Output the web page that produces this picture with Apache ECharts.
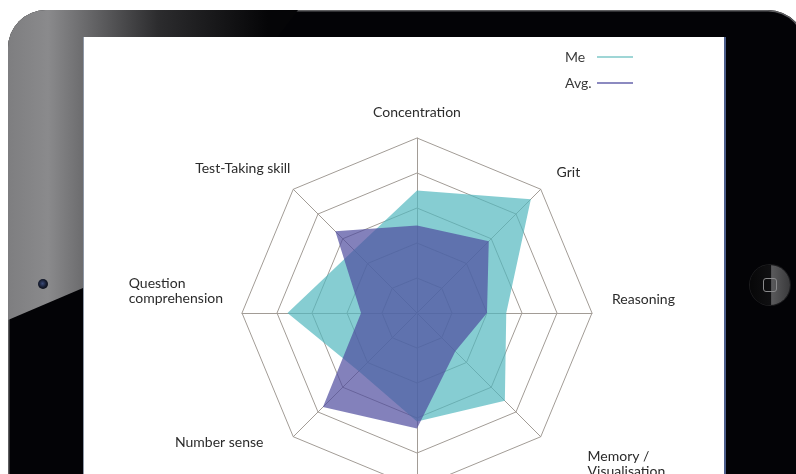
<!DOCTYPE html>
<html>
<head>
<meta charset="utf-8">
<script src="https://cdn.jsdelivr.net/npm/echarts@6/dist/echarts.min.js"></script>
<style>
  html, body { margin:0; padding:0; width:796px; height:474px; overflow:hidden; background:#ffffff; }
  .ipad { position:absolute; left:8px; top:10px; width:798px; height:700px; border-radius:38px;
          background:#030306; overflow:hidden; box-shadow: inset 0 0 0 1.5px #5e5e60; }
  .glare { position:absolute; left:0; top:0; width:300px; height:320px;
           clip-path: polygon(0 0, 290px 0, 75px 278px, 0 310px);
           background: linear-gradient(to right, #7e7e80 0px, #8a8a8c 40px, #6c6c6e 75px, #2c2c2e 150px, #050507 260px); }
  .screen { position:absolute; left:83px; top:37px; width:643px; height:460px; background:#ffffff;
            border-right:2px solid #4b5d8a; border-left:1px solid #8f98a6; box-sizing:border-box; }
  .home { position:absolute; left:750px; top:265px; width:40px; height:40px; border-radius:50%;
          background: linear-gradient(to right, #070708 0%, #101012 52%, #5a5a5c 54%, #3a3a3c 100%);
          box-shadow: 0 0 0 1px #1c1c1e; }
  .home::after { content:''; position:absolute; left:13px; top:13px; width:12px; height:12px;
          border:1.5px solid #8a8a8c; border-radius:3px; }
  .cam { position:absolute; left:38px; top:279px; width:10px; height:10px; border-radius:50%;
         background: radial-gradient(circle at 45% 45%, #3a4a78 0%, #141a2c 50%, #020205 100%); }
  #chart { position:absolute; left:0; top:0; width:796px; height:474px; }
</style>
</head>
<body>
<div class="ipad"><div class="glare"></div></div>
<div class="screen"></div>
<div class="home"></div>
<div class="cam"></div>
<div id="chart"></div>
<script>
// ---- data ----
const categories = ['Concentration', 'Test-Taking skill', 'Question\ncomprehension', 'Number sense', '', 'Memory /\nVisualisation', 'Reasoning', 'Grit'];
const seriesNames = ['Me', 'Avg.'];
const meValues  = [70, 51, 74, 47, 62, 71, 51, 92];
const avgValues = [50, 66, 32, 76, 66, 31, 40, 58];
const axisMax = 100;

// ---- label nudges (spacer sizes in px) ----
const nudges = [
  {below: 14},
  {right: 0, below: 36},
  {right: 15, below: 44},
  {right: 27, above: 6},
  {},
  {left: 44, above: 48},
  {left: 16, below: 28},
  {left: 13, below: 28}
];

const rich = { t: { fontFamily: 'Lato', fontSize: 14, lineHeight: 15, color: '#2b2b2b', align: 'left' } };
nudges.forEach(function (n, i) {
  if (n.left) rich['l' + i] = { width: n.left, fontSize: 14, lineHeight: 15, align: 'left' };
  if (n.right) rich['r' + i] = { width: n.right, fontSize: 14, lineHeight: 15, align: 'right' };
  if (n.above) rich['a' + i] = { height: n.above, lineHeight: n.above, fontSize: 2, align: 'left' };
  if (n.below) rich['b' + i] = { height: n.below, lineHeight: n.below, fontSize: 2, align: 'left' };
});

function nameFormatter(name) {
  const i = categories.indexOf(name);
  if (!name) return '';
  const n = nudges[i] || {};
  const out = [];
  if (n.above) out.push('{a' + i + '| }');
  name.split('\n').forEach(function (line, k, arr) {
    let s = '';
    if (n.left) s += '{l' + i + '| }';
    s += '{t|' + line + '}';
    if (n.right && k === arr.length - 1) s += '{r' + i + '| }';
    out.push(s);
  });
  if (n.below) out.push('{b' + i + '| }');
  return out.join('\n');
}

const chart = echarts.init(document.getElementById('chart'), null, { renderer: 'canvas' });
const gridColor = '#a29c96';
chart.setOption({
  animation: false,
  backgroundColor: 'transparent',
  legend: {
    orient: 'vertical',
    right: 158,
    top: 45,
    align: 'right',
    itemGap: 12,
    itemWidth: 36,
    itemHeight: 2,
    icon: 'rect',
    formatter: function (name) { return '{m|' + name + '}'; },
    textStyle: {
      width: 27,
      rich: { m: { fontFamily: 'Lato', fontSize: 14, color: '#3a3a3a', align: 'left' } }
    },
    data: [
      { name: seriesNames[0], itemStyle: { color: '#9fd6d6' } },
      { name: seriesNames[1], itemStyle: { color: '#8c8ac0' } }
    ]
  },
  radar: {
    center: [417, 313],
    radius: 175,
    startAngle: 90,
    splitNumber: 5,
    shape: 'polygon',
    nameGap: 4,
    indicator: categories.map(function (c) { return { name: c, max: axisMax, min: 0 }; }),
    axisName: {
      formatter: nameFormatter,
      rich: rich
    },
    axisLine: { lineStyle: { color: gridColor, width: 1 } },
    splitLine: { lineStyle: { color: gridColor, width: 1 } },
    splitArea: { show: false },
    axisTick: { show: false },
    axisLabel: { show: false }
  },
  series: [{
    type: 'radar',
    symbol: 'none',
    silent: true,
    data: [
      { name: seriesNames[0], value: meValues,
        lineStyle: { width: 0, color: '#52b8bf' },
        itemStyle: { color: '#52b8bf' },
        areaStyle: { color: '#52b8bf', opacity: 0.7 } },
      { name: seriesNames[1], value: avgValues,
        lineStyle: { width: 0, color: '#4f4c9e' },
        itemStyle: { color: '#4f4c9e' },
        areaStyle: { color: '#4f4c9e', opacity: 0.7 } }
    ]
  }]
});
</script>
</body>
</html>
